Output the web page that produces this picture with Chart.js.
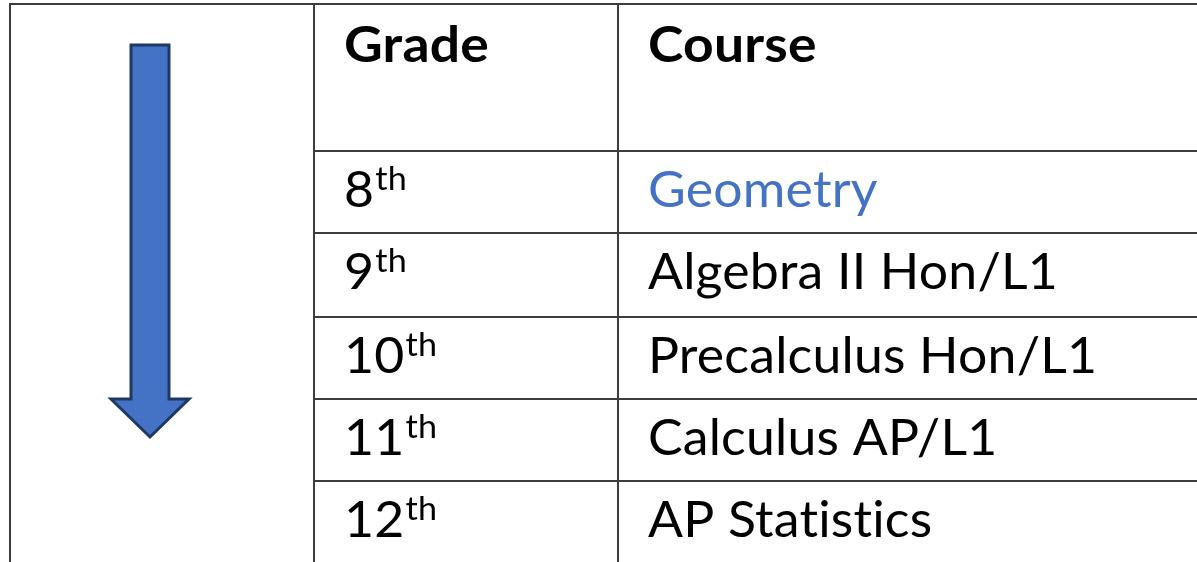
<!DOCTYPE html>
<html><head><meta charset="utf-8">
<script src="https://cdn.jsdelivr.net/npm/chart.js@4.4.1/dist/chart.umd.min.js"></script>
<style>html,body{margin:0;padding:0;background:#fff;overflow:hidden}canvas{display:block}</style>
</head><body><canvas id="c" width="1197" height="562"></canvas>
<script>
// ---- data ----
const headers = ['Grade', 'Course'];
const grades = ['8', '9', '10', '11', '12'];
const gradeSuffix = 'th';
const courses = ['Geometry', 'Algebra II Hon/L1', 'Precalculus Hon/L1', 'Calculus AP/L1', 'AP Statistics'];
const highlightedCourse = 'Geometry';

// ---- layout / style (scale units = pixels) ----
const COL_EDGES = [10, 314, 618];
const ROW_EDGES = [4, 151, 233, 317, 399, 481, 563];
const TEXT_PAD_X = 30;
const HEADER_BASE = 58;
const ROW_BASE = 56;
const FONT = 'Lato, "Open Sans", sans-serif';
const FONT_SIZE = 50;
const SUP_SIZE = 33;
const SUP_RAISE = 17;
const LINE_COLOR = '#3c3c3c';
const TEXT_COLOR = '#000000';
const HIGHLIGHT_COLOR = '#4472C4';
const ARROW_FILL = '#4472C4';
const ARROW_STROKE = '#1F3864';
const ARROW = [[131,45],[169,45],[169,399],[189,399],[150,437],[111,399],[131,399]];
const REF_W_REGULAR = ['Algebra II Hon/L1', 410];
const REF_W_BOLD = ['Grade', 145];

const tablePlugin = {
  id: 'table',
  afterDatasetsDraw(chart) {
    const ctx = chart.ctx;
    const xs = chart.scales.x, ys = chart.scales.y;
    const X = v => xs.getPixelForValue(v), Y = v => ys.getPixelForValue(v);
    ctx.save();
    // grid lines
    ctx.strokeStyle = LINE_COLOR; ctx.lineWidth = 2;
    ROW_EDGES.forEach((r, i) => {
      const x0 = i === 0 ? X(COL_EDGES[0]) - 1 : X(COL_EDGES[1]);
      ctx.beginPath(); ctx.moveTo(x0, Y(r)); ctx.lineTo(X(1300), Y(r)); ctx.stroke();
    });
    COL_EDGES.forEach(c => { ctx.beginPath(); ctx.moveTo(X(c), Y(ROW_EDGES[0]) - 1); ctx.lineTo(X(c), Y(700)); ctx.stroke(); });
    // arrow
    ctx.beginPath();
    ARROW.forEach(([ax, ay], i) => i ? ctx.lineTo(X(ax), Y(ay)) : ctx.moveTo(X(ax), Y(ay)));
    ctx.closePath();
    ctx.fillStyle = ARROW_FILL; ctx.fill();
    ctx.strokeStyle = ARROW_STROKE; ctx.lineWidth = 3; ctx.lineJoin = 'miter'; ctx.stroke();

    const noLig = () => {
      try { ctx.textRendering = 'optimizeSpeed'; } catch (e) {}
      try { ctx.letterSpacing = '0.2px'; } catch (e) {}
    };
    // text scaling factors
    noLig();
    ctx.font = `${FONT_SIZE}px ${FONT}`;
    const sxR = REF_W_REGULAR[1] / ctx.measureText(REF_W_REGULAR[0]).width;
    ctx.font = `bold ${FONT_SIZE}px ${FONT}`;
    const sxB = REF_W_BOLD[1] / ctx.measureText(REF_W_BOLD[0]).width;
    const drawText = (txt, x, y, font, color, sx) => {
      ctx.save(); ctx.translate(x, y); ctx.scale(sx, 1);
      noLig();
      ctx.font = font; ctx.fillStyle = color; ctx.textBaseline = 'alphabetic'; ctx.textAlign = 'left';
      ctx.fillText(txt, 0, 0);
      const w = ctx.measureText(txt).width * sx;
      ctx.restore();
      return w;
    };
    // headers
    headers.forEach((h, i) => drawText(h, X(COL_EDGES[i + 1]) + TEXT_PAD_X, Y(ROW_EDGES[0]) + HEADER_BASE, `bold ${FONT_SIZE}px ${FONT}`, TEXT_COLOR, sxB));
    // grade column
    chart.getDatasetMeta(0).data.forEach((el, i) => {
      const x = el.x + TEXT_PAD_X, y = el.y + ROW_BASE;
      const w = drawText(grades[i], x, y, `${FONT_SIZE}px ${FONT}`, TEXT_COLOR, sxR);
      drawText(gradeSuffix, x + w + 1, y - SUP_RAISE, `${SUP_SIZE}px ${FONT}`, TEXT_COLOR, sxR);
    });
    // course column
    chart.getDatasetMeta(1).data.forEach((el, i) => {
      const c = courses[i];
      drawText(c, el.x + TEXT_PAD_X, el.y + ROW_BASE, `${FONT_SIZE}px ${FONT}`, c === highlightedCourse ? HIGHLIGHT_COLOR : TEXT_COLOR, sxR);
    });
    ctx.restore();
  }
};

function build() {
  new Chart(document.getElementById('c'), {
    type: 'scatter',
    data: {
      datasets: [
        {label: 'Grade', data: grades.map((g, i) => ({x: COL_EDGES[1], y: ROW_EDGES[i + 1]})), pointRadius: 0},
        {label: 'Course', data: courses.map((c, i) => ({x: COL_EDGES[2], y: ROW_EDGES[i + 1]})), pointRadius: 0}
      ]
    },
    options: {
      responsive: false, animation: false, devicePixelRatio: 1,
      layout: {padding: 0},
      plugins: {legend: {display: false}, tooltip: {enabled: false}},
      scales: {
        x: {type: 'linear', min: 0, max: 1197, display: false},
        y: {type: 'linear', min: 0, max: 562, reverse: true, display: false}
      }
    },
    plugins: [tablePlugin]
  });
}
if (document.fonts && document.fonts.load) {
  Promise.all([document.fonts.load(`${FONT_SIZE}px Lato`), document.fonts.load(`bold ${FONT_SIZE}px Lato`)]).then(build, build);
} else build();
</script>
</body></html>
